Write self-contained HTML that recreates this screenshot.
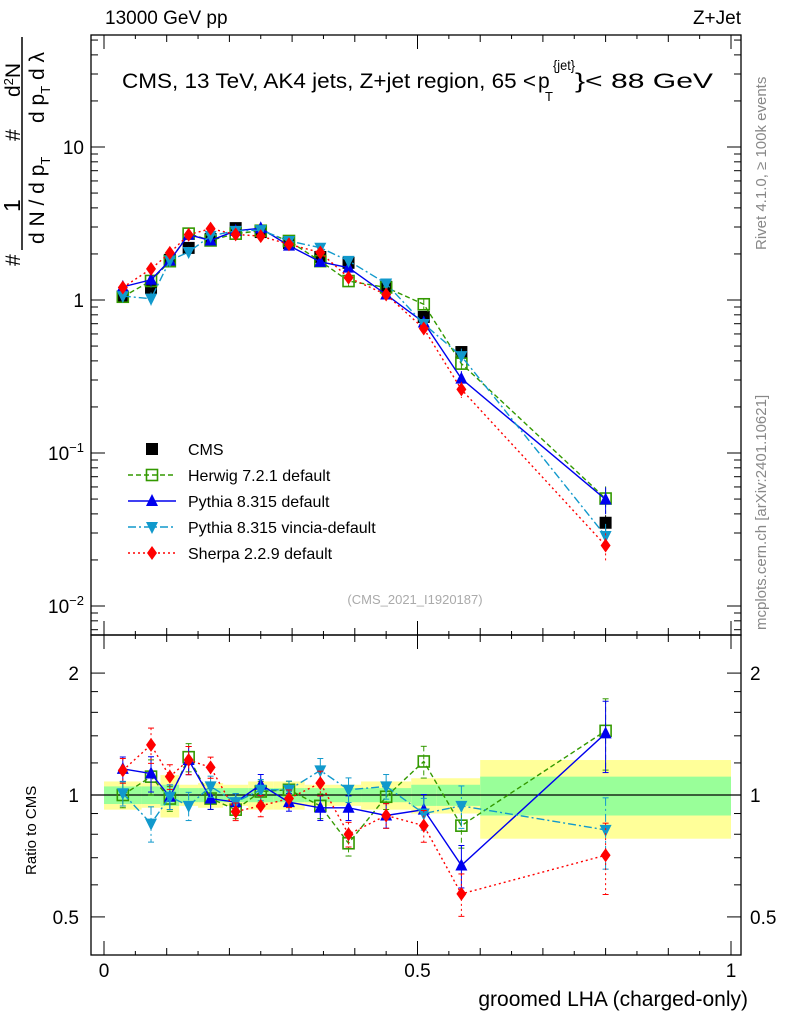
<!DOCTYPE html>
<html><head><meta charset="utf-8">
<style>
body{margin:0;background:#fff;}
svg{display:block;font-family:"Liberation Sans",sans-serif;}
</style></head>
<body>
<svg id="c" width="786" height="1024" viewBox="0 0 786 1024" xmlns="http://www.w3.org/2000/svg">
<text x="105" y="24" font-size="19">13000 GeV pp</text>
<text x="741" y="24" font-size="19" text-anchor="end">Z+Jet</text>
<text transform="translate(766,250) rotate(-90)" font-size="15" fill="#888">Rivet 4.1.0, ≥ 100k events</text>
<text transform="translate(766,630) rotate(-90)" font-size="15" fill="#888">mcplots.cern.ch [arXiv:2401.10621]</text>
<g font-size="21">
<text x="122" y="88" textLength="414" lengthAdjust="spacingAndGlyphs">CMS, 13 TeV, AK4 jets, Z+jet region, 65 &lt;</text>
<text x="538" y="88">p</text>
<text x="545" y="101" font-size="13">T</text>
<text x="553" y="70" font-size="14" textLength="22" lengthAdjust="spacingAndGlyphs">{jet}</text>
<text x="575" y="88" textLength="138" lengthAdjust="spacingAndGlyphs">}&lt; 88 GeV</text>
</g>
<g font-size="21">
<line x1="22" y1="250" x2="22" y2="37" stroke="#000" stroke-width="1.5"/>
<text transform="translate(20,266) rotate(-90)">#</text>
<text transform="translate(20,212) rotate(-90)" font-size="23">1</text>
<text transform="translate(20,141) rotate(-90)">#</text>
<text transform="translate(20,97) rotate(-90)">d<tspan font-size="13" dy="-7">2</tspan><tspan dy="7">N</tspan></text>
<text transform="translate(44,244) rotate(-90)">d N / d p<tspan font-size="13" dy="6">T</tspan></text>
<text transform="translate(44,123) rotate(-90)">d p<tspan font-size="13" dy="6">T</tspan><tspan dy="-6"> d λ</tspan></text>
</g>
<text transform="translate(36,875) rotate(-90)" font-size="15">Ratio to CMS</text>
<text x="748" y="1006" font-size="21" text-anchor="end">groomed LHA (charged-only)</text>
<text x="415" y="604" font-size="13" fill="#aaa" text-anchor="middle">(CMS_2021_I1920187)</text>
<g id="g"></g>
</svg>
<script>
const xs=[0.03,0.075,0.105,0.135,0.17,0.21,0.25,0.295,0.345,0.39,0.45,0.51,0.57,0.80];
const edges=[0,0.06,0.09,0.12,0.15,0.19,0.23,0.27,0.32,0.37,0.41,0.49,0.53,0.6,1.0];
const cms=[1.05,1.2,1.83,2.19,2.5,2.95,2.78,2.36,1.91,1.75,1.22,0.775,0.457,0.035];
const herwigR=[1.0,1.11,0.98,1.24,0.98,0.92,1.02,1.03,0.94,0.76,0.99,1.21,0.84,1.44];
const pythiaR=[1.16,1.13,0.99,1.22,0.98,0.96,1.06,0.96,0.93,0.93,0.89,0.92,0.67,1.42];
const vinciaR=[1.01,0.85,0.99,0.94,1.05,0.96,1.03,1.03,1.15,1.03,1.05,0.90,0.94,0.82];
const sherpaR=[1.15,1.33,1.11,1.22,1.17,0.91,0.94,0.98,1.07,0.80,0.89,0.84,0.57,0.71];
const bandYellow=[0.08,0.07,0.12,0.06,0.07,0.06,0.08,0.08,0.06,0.06,0.08,0.1,0.1,0.22];
const bandGreen=[0.05,0.05,0.06,0.04,0.04,0.04,0.04,0.04,0.04,0.04,0.04,0.06,0.06,0.11];
const relErr=[0.07,0.1,0.07,0.08,0.06,0.05,0.06,0.05,0.07,0.07,0.07,0.09,0.12,0.2];

const NS="http://www.w3.org/2000/svg",G=document.getElementById('g');
const X=v=>104+627*v, Y=v=>300-153*Math.log10(v), R=v=>795-405*Math.log10(v);
function el(t,a,p){const e=document.createElementNS(NS,t);for(const k in a)e.setAttribute(k,a[k]);(p||G).appendChild(e);return e;}
for(let i=0;i<xs.length;i++){
 const x0=X(edges[i]),x1=X(edges[i+1]);
 const b=el('rect',{x:x0,y:R(1+bandYellow[i]),width:x1-x0,height:R(1-bandYellow[i])-R(1+bandYellow[i]),fill:'#ffff99'});
 
 
 const g2=el('rect',{x:x0,y:R(1+bandGreen[i]),width:x1-x0,height:R(1-bandGreen[i])-R(1+bandGreen[i]),fill:'#99ff99'});
 
 
}
el('line',{x1:91,x2:741,y1:R(1),y2:R(1),stroke:'#000','stroke-width':1.3});
el('rect',{x:91,y:35,width:650,height:600,fill:'none',stroke:'#000','stroke-width':1.3});
el('rect',{x:91,y:635,width:650,height:320,fill:'none',stroke:'#000','stroke-width':1.3});
for(let k=0;k<=20;k++){const v=k*0.05,x=X(v);const L=(k%10==0)?14:(k%2==0?7:4);
 for(const [y0,d] of [[635,-1],[35,1],[955,-1],[635,1]]) el('line',{x1:x,x2:x,y1:y0,y2:y0+d*L,stroke:'#000'});}
[['0',0],['0.5',0.5],['1',1]].forEach(([t,v])=>{const e=el('text',{x:X(v),y:977,'font-size':19,'text-anchor':'middle'});e.textContent=t;
 
 });
for(let d=-3;d<=1;d++)for(let m=1;m<=9;m++){const v=m*Math.pow(10,d),y=Y(v);if(y<35||y>635)continue;const L=m==1?14:7;
 el('line',{x1:91,x2:91+L,y1:y,y2:y,stroke:'#000'});el('line',{x1:741,x2:741-L,y1:y,y2:y,stroke:'#000'});}
[['10',10],['1',1]].forEach(([t,v])=>{const e=el('text',{x:84,y:Y(v)+7,'font-size':19,'text-anchor':'end'});e.textContent=t;
 
 });
[['−1',0.1],['−2',0.01]].forEach(([t,v])=>{const e=el('text',{x:84,y:Y(v)+7,'font-size':19,'text-anchor':'end'});e.innerHTML='10<tspan font-size="13" dy="-8">'+t+'</tspan>';
 
 });
for(const v of [0.5,0.6,0.7,0.8,0.9,1,2]){const y=R(v),L=(v==0.5||v==1||v==2)?14:7;
 el('line',{x1:91,x2:91+L,y1:y,y2:y,stroke:'#000'});el('line',{x1:741,x2:741-L,y1:y,y2:y,stroke:'#000'});}
for(const v of [1.2,1.4,1.6,1.8]){const y=R(v);el('line',{x1:91,x2:98,y1:y,y2:y,stroke:'#000'});el('line',{x1:741,x2:734,y1:y,y2:y,stroke:'#000'});}
[['2',2],['1',1],['0.5',0.5]].forEach(([t,v])=>{
 const a=el('text',{x:79,y:R(v)+7,'font-size':19,'text-anchor':'end'});a.textContent=t;
 
 
 const b=el('text',{x:750,y:R(v)+7,'font-size':19});b.textContent=t;
 
 });

function marker(type,x,y,c,p){
 if(type=='sq')return el('rect',{x:x-6,y:y-6,width:12,height:12,fill:'#000'},p);
 if(type=='osq')return el('rect',{x:x-5.5,y:y-5.5,width:11,height:11,fill:'none',stroke:c,'stroke-width':1.6},p);
 if(type=='up')return el('polygon',{points:`${x},${y-7} ${x-6},${y+5} ${x+6},${y+5}`,fill:c},p);
 if(type=='dn')return el('polygon',{points:`${x},${y+7} ${x-6},${y-5} ${x+6},${y-5}`,fill:c},p);
 return el('polygon',{points:`${x},${y-7} ${x-5},${y} ${x},${y+7} ${x+5},${y}`,fill:c},p);
}
const series=[
 {n:'herwig',r:herwigR,c:'#339900',m:'osq',d:'5,3'},
 {n:'pythia',r:pythiaR,c:'#0000ee',m:'up',d:''},
 {n:'vincia',r:vinciaR,c:'#1199cc',m:'dn',d:'8,3,2,3'},
 {n:'sherpa',r:sherpaR,c:'#ff0000',m:'di',d:'2,3'}];
cms.forEach((v,i)=>{const x=X(xs[i]);
 el('line',{x1:x,x2:x,y1:Y(v*(1+relErr[i]*0.6)),y2:Y(v*(1-relErr[i]*0.6)),stroke:'#000'});
 const m=marker('sq',x,Y(v));});
series.forEach(s=>{
 const gp=el('g',{});
 const gr=el('g',{});
 const pm=xs.map((x,i)=>X(x)+','+Y(cms[i]*s.r[i])).join(' ');
 const pr=xs.map((x,i)=>X(x)+','+R(s.r[i])).join(' ');
 el('polyline',{points:pm,fill:'none',stroke:s.c,'stroke-width':1.4,'stroke-dasharray':s.d},gp);
 el('polyline',{points:pr,fill:'none',stroke:s.c,'stroke-width':1.4,'stroke-dasharray':s.d},gr);
 xs.forEach((xv,i)=>{const x=X(xv),v=cms[i]*s.r[i],e=relErr[i];
  el('line',{x1:x,x2:x,y1:Y(v*(1+e)),y2:Y(v*(1-e)),stroke:s.c,'stroke-dasharray':s.d},gp);
  el('line',{x1:x,x2:x,y1:R(s.r[i]*(1+e)),y2:R(s.r[i]*(1-e)),stroke:s.c,'stroke-dasharray':s.d},gr);
  for(const yy of [R(s.r[i]*(1+e)),R(s.r[i]*(1-e))])el('line',{x1:x-3,x2:x+3,y1:yy,y2:yy,stroke:s.c},gr);
  marker(s.m,x,Y(v),s.c,gp);marker(s.m,x,R(s.r[i]),s.c,gr);});
});
const leg=[['CMS','sq','#000',''],['Herwig 7.2.1 default','osq','#339900','5,3'],['Pythia 8.315 default','up','#0000ee',''],['Pythia 8.315 vincia-default','dn','#1199cc','8,3,2,3'],['Sherpa 2.2.9 default','di','#ff0000','2,3']];
leg.forEach((l,i)=>{const y=449+i*26;const g=el('g',{});
 
 
 if(i>0)el('line',{x1:128,x2:176,y1:y,y2:y,stroke:l[2],'stroke-width':1.4,'stroke-dasharray':l[3]},g);
 marker(l[1],152,y,l[2],g);
 const t=el('text',{x:188,y:y+6,'font-size':16},g);t.textContent=l[0];});
</script>
</body></html>
